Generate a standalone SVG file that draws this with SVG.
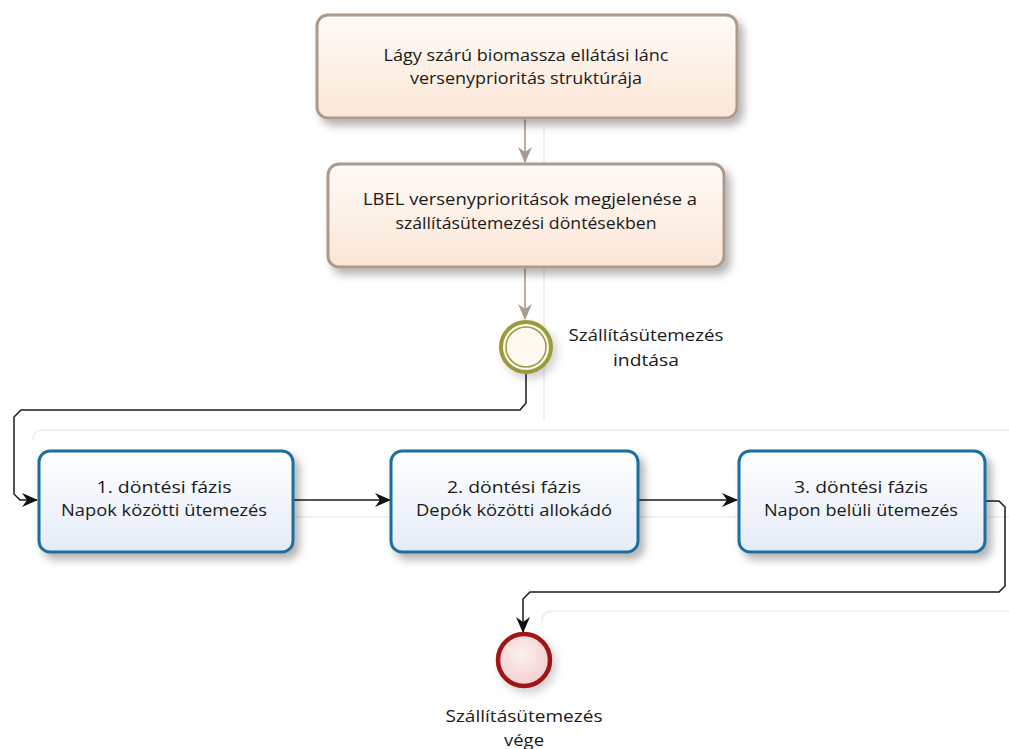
<svg xmlns="http://www.w3.org/2000/svg" width="1009" height="749" viewBox="0 0 1009 749">
  <style>
    .lbl { font-family: "Open Sans", "DejaVu Sans", sans-serif; font-size: 16.5px; fill: #1a1a1a; text-anchor: middle; }
    .task-warm { fill: url(#gWarm); stroke: #ad9a8b; stroke-width: 3; filter: url(#shadow); }
    .task-blue { fill: url(#gBlue); stroke: #1c6e9e; stroke-width: 3; filter: url(#shadow); }
    .flow-warm { fill: none; stroke: #ad9a8b; stroke-width: 1.6; marker-end: url(#arrWarm); }
    .flow { fill: none; stroke: #1a1a1a; stroke-width: 1.5; marker-end: url(#arrDark); }
    .ghost { fill: none; stroke: #ededed; stroke-width: 1.5; }
  </style>
  <defs>
    <linearGradient id="gWarm" x1="0" y1="0" x2="0" y2="1">
      <stop offset="0" stop-color="#fffbf7"/>
      <stop offset="1" stop-color="#fbe6d6"/>
    </linearGradient>
    <linearGradient id="gBlue" x1="0" y1="0" x2="0" y2="1">
      <stop offset="0" stop-color="#ffffff"/>
      <stop offset="1" stop-color="#e4ebf8"/>
    </linearGradient>
    <radialGradient id="gEnd" cx="0.45" cy="0.4" r="0.6">
      <stop offset="0" stop-color="#fdf0f0"/>
      <stop offset="1" stop-color="#f4cfcf"/>
    </radialGradient>
    <filter id="shadow" x="-10%" y="-20%" width="125%" height="150%">
      <feDropShadow dx="5" dy="6" stdDeviation="4" flood-color="#000" flood-opacity="0.3"/>
    </filter>
    <filter id="softShadow" x="-40%" y="-40%" width="200%" height="200%">
      <feDropShadow dx="4" dy="5" stdDeviation="4" flood-color="#000" flood-opacity="0.18"/>
    </filter>
    <marker id="arrWarm" viewBox="0 0 16 14" refX="15" refY="7" markerWidth="16" markerHeight="14" markerUnits="userSpaceOnUse" orient="auto">
      <path d="M0,0 L16,7 L0,14 L5,7 Z" fill="#ad9a8b"/>
    </marker>
    <marker id="arrDark" viewBox="0 0 16 14" refX="15" refY="7" markerWidth="16" markerHeight="14" markerUnits="userSpaceOnUse" orient="auto">
      <path d="M0,0 L16,7 L0,14 L5,7 Z" fill="#111"/>
    </marker>
  </defs>

  <rect width="1009" height="749" fill="#ffffff"/>

  <!-- faint pool outlines -->
  <g id="background-guides">
    <path class="ghost" d="M544,128 V420"/>
    <path class="ghost" d="M33,440 Q33,430 43,430 H1009"/>
    <path class="ghost" d="M293,517 H391 M639,517 H738 M985,517 H1009"/>
    <path class="ghost" d="M542,622 Q542,611 553,611 H1009"/>
  </g>

  <!-- sequence flows -->
  <g id="connectors">
    <path class="flow-warm" d="M525,119 V162"/>
    <path class="flow-warm" d="M525,268 V319"/>
    <path class="flow" d="M526,374 V403 L520,410 H21 L14,417 V494 L20,500 H37"/>
    <path class="flow" d="M293,500 H390"/>
    <path class="flow" d="M639,500 H737"/>
    <path class="flow" d="M986,501 H999 L1005,507 V586 L999,592 H530 L523,599 V632"/>
  </g>

  <g id="task-structure">
    <rect class="task-warm" x="317" y="15" width="420" height="103" rx="11"/>
    <text class="lbl" x="526" y="61" textLength="285" lengthAdjust="spacingAndGlyphs">Lágy szárú biomassza ellátási lánc</text>
    <text class="lbl" x="526" y="84" textLength="232" lengthAdjust="spacingAndGlyphs">versenyprioritás struktúrája</text>
  </g>

  <g id="task-priorities">
    <rect class="task-warm" x="328" y="164" width="396" height="103" rx="11"/>
    <text class="lbl" x="530" y="205" textLength="334" lengthAdjust="spacingAndGlyphs">LBEL versenyprioritások megjelenése a</text>
    <text class="lbl" x="526" y="229" textLength="261" lengthAdjust="spacingAndGlyphs">szállításütemezési döntésekben</text>
  </g>

  <g id="start-event">
    <circle cx="526" cy="347" r="25" fill="#fdf9f1" stroke="#9a9a3c" stroke-width="4" filter="url(#softShadow)"/>
    <circle cx="526" cy="347" r="20" fill="none" stroke="#9a9a3c" stroke-width="1.5"/>
    <text class="lbl" x="646" y="341" textLength="155" lengthAdjust="spacingAndGlyphs">Szállításütemezés</text>
    <text class="lbl" x="646" y="366" textLength="66" lengthAdjust="spacingAndGlyphs">indtása</text>
  </g>

  <g id="phase-1">
    <rect class="task-blue" x="39" y="451" width="254" height="101" rx="11"/>
    <text class="lbl" x="164" y="493" textLength="135" lengthAdjust="spacingAndGlyphs">1. döntési fázis</text>
    <text class="lbl" x="164" y="516" textLength="206" lengthAdjust="spacingAndGlyphs">Napok közötti ütemezés</text>
  </g>

  <g id="phase-2">
    <rect class="task-blue" x="391" y="451" width="247" height="101" rx="11"/>
    <text class="lbl" x="514" y="493" textLength="134" lengthAdjust="spacingAndGlyphs">2. döntési fázis</text>
    <text class="lbl" x="514" y="516" textLength="196" lengthAdjust="spacingAndGlyphs">Depók közötti allokádó</text>
  </g>

  <g id="phase-3">
    <rect class="task-blue" x="739" y="451" width="246" height="101" rx="11"/>
    <text class="lbl" x="861" y="493" textLength="134" lengthAdjust="spacingAndGlyphs">3. döntési fázis</text>
    <text class="lbl" x="861" y="516" textLength="194" lengthAdjust="spacingAndGlyphs">Napon belüli ütemezés</text>
  </g>

  <g id="end-event">
    <circle cx="524" cy="660" r="26" fill="url(#gEnd)" stroke="#a01414" stroke-width="4.5" filter="url(#softShadow)"/>
    <text class="lbl" x="524" y="722" textLength="157" lengthAdjust="spacingAndGlyphs">Szállításütemezés</text>
    <text class="lbl" x="524" y="746" textLength="40" lengthAdjust="spacingAndGlyphs">vége</text>
  </g>
</svg>
